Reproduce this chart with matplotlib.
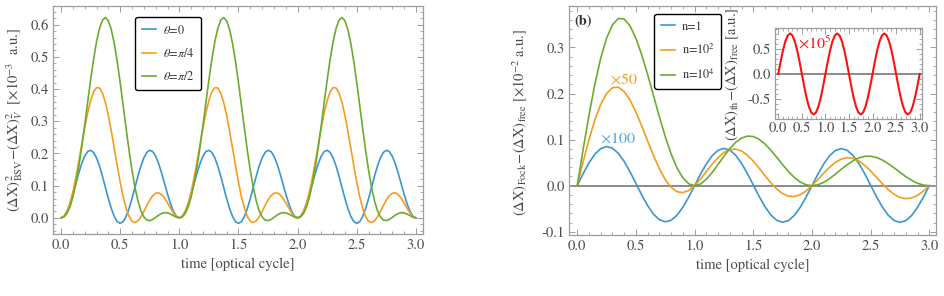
import numpy as np
import matplotlib
matplotlib.use('Agg')
import matplotlib.pyplot as plt
from matplotlib.ticker import MultipleLocator, FormatStrFormatter

plt.rcParams['font.family'] = ['STIXGeneral', 'DejaVu Serif']
plt.rcParams['mathtext.fontset'] = 'stix'
plt.rcParams['axes.unicode_minus'] = True

# ---------------- data: left panel (time step 0.025 optical cycle) ----------------
theta_labels = [r'$\theta$=0', r'$\theta$=$\pi$/4', r'$\theta$=$\pi$/2']
bsv_theta0 = [
    0, 0.0052, 0.0205, 0.0441, 0.0739, 0.1068, 0.1395, 0.1688, 0.1918, 0.2060,
    0.2100, 0.2033, 0.1865, 0.1611, 0.1295, 0.0947, 0.0601, 0.0290, 0.0043, -0.0116,
    -0.0170, -0.0116, 0.0043, 0.0290, 0.0601, 0.0947, 0.1295, 0.1611, 0.1865, 0.2033,
    0.2100, 0.2060, 0.1918, 0.1688, 0.1395, 0.1068, 0.0739, 0.0441, 0.0205, 0.0052,
    0, 0.0052, 0.0205, 0.0441, 0.0739, 0.1068, 0.1395, 0.1688, 0.1918, 0.2060,
    0.2100, 0.2033, 0.1865, 0.1611, 0.1295, 0.0947, 0.0601, 0.0290, 0.0043, -0.0116,
    -0.0170, -0.0116, 0.0043, 0.0290, 0.0601, 0.0947, 0.1295, 0.1611, 0.1865, 0.2033,
    0.2100, 0.2060, 0.1918, 0.1688, 0.1395, 0.1068, 0.0739, 0.0441, 0.0205, 0.0052,
    0, 0.0052, 0.0205, 0.0441, 0.0739, 0.1068, 0.1395, 0.1688, 0.1918, 0.2060,
    0.2100, 0.2033, 0.1865, 0.1611, 0.1295, 0.0947, 0.0601, 0.0290, 0.0043, -0.0116,
    -0.0170, -0.0116, 0.0043, 0.0290, 0.0601, 0.0947, 0.1295, 0.1611, 0.1865, 0.2033,
    0.2100, 0.2060, 0.1918, 0.1688, 0.1395, 0.1068, 0.0739, 0.0441, 0.0205, 0.0052,
    0]
bsv_theta_pi4 = [
    0, 0.0048, 0.0198, 0.0455, 0.0813, 0.1255, 0.1755, 0.2281, 0.2796, 0.3263,
    0.3645, 0.3914, 0.4047, 0.4035, 0.3877, 0.3585, 0.3181, 0.2694, 0.2162, 0.1621,
    0.1110, 0.0661, 0.0299, 0.0042, -0.0105, -0.0145, -0.0092, 0.0032, 0.0201, 0.0384,
    0.0555, 0.0688, 0.0766, 0.0778, 0.0725, 0.0615, 0.0466, 0.0303, 0.0151, 0.0042,
    0, 0.0048, 0.0198, 0.0455, 0.0813, 0.1255, 0.1755, 0.2281, 0.2796, 0.3263,
    0.3645, 0.3914, 0.4047, 0.4035, 0.3877, 0.3585, 0.3181, 0.2694, 0.2162, 0.1621,
    0.1110, 0.0661, 0.0299, 0.0042, -0.0105, -0.0145, -0.0092, 0.0032, 0.0201, 0.0384,
    0.0555, 0.0688, 0.0766, 0.0778, 0.0725, 0.0615, 0.0466, 0.0303, 0.0151, 0.0042,
    0, 0.0048, 0.0198, 0.0455, 0.0813, 0.1255, 0.1755, 0.2281, 0.2796, 0.3263,
    0.3645, 0.3914, 0.4047, 0.4035, 0.3877, 0.3585, 0.3181, 0.2694, 0.2162, 0.1621,
    0.1110, 0.0661, 0.0299, 0.0042, -0.0105, -0.0145, -0.0092, 0.0032, 0.0201, 0.0384,
    0.0555, 0.0688, 0.0766, 0.0778, 0.0725, 0.0615, 0.0466, 0.0303, 0.0151, 0.0042,
    0]
bsv_theta_pi2 = [
    0, 0.0030, 0.0136, 0.0337, 0.0646, 0.1068, 0.1594, 0.2210, 0.2887, 0.3592,
    0.4285, 0.4924, 0.5469, 0.5884, 0.6141, 0.6223, 0.6122, 0.5847, 0.5415, 0.4854,
    0.4200, 0.3495, 0.2780, 0.2095, 0.1476, 0.0947, 0.0528, 0.0223, 0.0029, -0.0067,
    -0.0085, -0.0049, 0.0015, 0.0084, 0.0137, 0.0163, 0.0156, 0.0121, 0.0070, 0.0022,
    0, 0.0030, 0.0136, 0.0337, 0.0646, 0.1068, 0.1594, 0.2210, 0.2887, 0.3592,
    0.4285, 0.4924, 0.5469, 0.5884, 0.6141, 0.6223, 0.6122, 0.5847, 0.5415, 0.4854,
    0.4200, 0.3495, 0.2780, 0.2095, 0.1476, 0.0947, 0.0528, 0.0223, 0.0029, -0.0067,
    -0.0085, -0.0049, 0.0015, 0.0084, 0.0137, 0.0163, 0.0156, 0.0121, 0.0070, 0.0022,
    0, 0.0030, 0.0136, 0.0337, 0.0646, 0.1068, 0.1594, 0.2210, 0.2887, 0.3592,
    0.4285, 0.4924, 0.5469, 0.5884, 0.6141, 0.6223, 0.6122, 0.5847, 0.5415, 0.4854,
    0.4200, 0.3495, 0.2780, 0.2095, 0.1476, 0.0947, 0.0528, 0.0223, 0.0029, -0.0067,
    -0.0085, -0.0049, 0.0015, 0.0084, 0.0137, 0.0163, 0.0156, 0.0121, 0.0070, 0.0022,
    0]

# ---------------- data: right panel (time step 0.05 optical cycle) ----------------
n_labels = ['n=1', r'n=10$^2$', r'n=10$^4$']
fock_n1_x100 = [
    0, 0.0260, 0.0494, 0.0682, 0.0804, 0.0850, 0.0815, 0.0704, 0.0527, 0.0301,
    0.0050, -0.0203, -0.0433, -0.0617, -0.0738, -0.0783, -0.0750, -0.0641, -0.0468, -0.0247,
    0, 0.0248, 0.0472, 0.0652, 0.0768, 0.0810, 0.0773, 0.0662, 0.0486, 0.0264,
    0.0017, -0.0232, -0.0456, -0.0635, -0.0751, -0.0793, -0.0756, -0.0644, -0.0469, -0.0247,
    0, 0.0248, 0.0471, 0.0650, 0.0765, 0.0806, 0.0768, 0.0656, 0.0480, 0.0257,
    0.0010, -0.0238, -0.0462, -0.0640, -0.0755, -0.0796, -0.0758, -0.0645, -0.0469, -0.0247,
    0]
fock_n100_x50 = [
    0, 0.0515, 0.0999, 0.1423, 0.1762, 0.2000, 0.2126, 0.2138, 0.2044, 0.1858,
    0.1600, 0.1295, 0.0971, 0.0654, 0.0368, 0.0133, -0.0035, -0.0130, -0.0150, -0.0103,
    0, 0.0142, 0.0305, 0.0467, 0.0611, 0.0720, 0.0783, 0.0794, 0.0752, 0.0662,
    0.0533, 0.0380, 0.0217, 0.0061, -0.0072, -0.0171, -0.0227, -0.0235, -0.0195, -0.0114,
    0, 0.0133, 0.0272, 0.0400, 0.0506, 0.0578, 0.0608, 0.0594, 0.0537, 0.0442,
    0.0320, 0.0182, 0.0043, -0.0084, -0.0187, -0.0255, -0.0282, -0.0266, -0.0209, -0.0117,
    0]
fock_n1e4 = [
    0, 0.0783, 0.1528, 0.2199, 0.2764, 0.3200, 0.3491, 0.3629, 0.3618, 0.3469,
    0.3200, 0.2838, 0.2412, 0.1954, 0.1496, 0.1067, 0.0691, 0.0388, 0.0170, 0.0041,
    0, 0.0037, 0.0139, 0.0287, 0.0461, 0.0640, 0.0806, 0.0941, 0.1034, 0.1076,
    0.1067, 0.1007, 0.0905, 0.0770, 0.0616, 0.0457, 0.0307, 0.0178, 0.0080, 0.0020,
    0, 0.0019, 0.0073, 0.0153, 0.0251, 0.0356, 0.0455, 0.0541, 0.0603, 0.0637,
    0.0640, 0.0612, 0.0557, 0.0479, 0.0388, 0.0291, 0.0197, 0.0116, 0.0053, 0.0013,
    0]
thermal_x1e5 = [
    0, 0.2503, 0.4761, 0.6553, 0.7704, 0.8100, 0.7704, 0.6553, 0.4761, 0.2503,
    0, -0.2503, -0.4761, -0.6553, -0.7704, -0.8100, -0.7704, -0.6553, -0.4761, -0.2503,
    0, 0.2503, 0.4761, 0.6553, 0.7704, 0.8100, 0.7704, 0.6553, 0.4761, 0.2503,
    0, -0.2503, -0.4761, -0.6553, -0.7704, -0.8100, -0.7704, -0.6553, -0.4761, -0.2503,
    0, 0.2503, 0.4761, 0.6553, 0.7704, 0.8100, 0.7704, 0.6553, 0.4761, 0.2503,
    0, -0.2503, -0.4761, -0.6553, -0.7704, -0.8100, -0.7704, -0.6553, -0.4761, -0.2503,
    0]

t_left = np.linspace(0, 3, len(bsv_theta0))
t_right = np.linspace(0, 3, len(fock_n1e4))

# ---------------- style ----------------
C_BLUE = '#3a96d2'
C_ORANGE = '#f49d1c'
C_GREEN = '#68ad30'
C_RED = '#ff1010'
FRAME = '#9c9c9c'
TXT = '#4a4a4a'
FS = 10.5
LFS = 8.8

fig = plt.figure(figsize=(9.44, 2.96), dpi=100)
axL = fig.add_axes([53/944, 1-234/296, 370/944, 228/296])
axR = fig.add_axes([569/944, 1-235/296, 367/944, 229/296])
axI = fig.add_axes([775/944, 1-119/296, 147/944, 91/296])


def style(ax, xmaj, xmin, ymaj, ymin):
    for s in ax.spines.values():
        s.set_color(FRAME)
        s.set_linewidth(0.9)
    ax.xaxis.set_major_locator(MultipleLocator(xmaj))
    ax.xaxis.set_minor_locator(MultipleLocator(xmin))
    ax.yaxis.set_major_locator(MultipleLocator(ymaj))
    ax.yaxis.set_minor_locator(MultipleLocator(ymin))
    ax.xaxis.set_major_formatter(FormatStrFormatter('%.1f'))
    ax.yaxis.set_major_formatter(FormatStrFormatter('%.1f'))
    ax.tick_params(which='both', direction='in', top=True, right=True,
                   color=FRAME, labelcolor=TXT, labelsize=FS, pad=3)
    ax.tick_params(which='major', length=4, width=0.7)
    ax.tick_params(which='minor', length=2, width=0.6)


def make_legend(ax, anchor):
    leg = ax.legend(loc='upper left', bbox_to_anchor=anchor, fontsize=LFS,
                    frameon=True, fancybox=True, framealpha=1.0,
                    handlelength=1.15, handletextpad=0.55,
                    labelspacing=0.85, borderpad=0.55, borderaxespad=0)
    leg.get_frame().set_edgecolor('black')
    leg.get_frame().set_linewidth(1.0)
    for tx in leg.get_texts():
        tx.set_color('#333333')
    return leg


# ---------------- left panel ----------------
lw = 1.2
for y, c, lab in zip([bsv_theta0, bsv_theta_pi4, bsv_theta_pi2],
                     [C_BLUE, C_ORANGE, C_GREEN], theta_labels):
    axL.plot(t_left, y, color=c, lw=lw, label=lab)
axL.set_xlim(-0.068, 3.06)
axL.set_ylim(-0.05, 0.658)
style(axL, 0.5, 0.1, 0.1, 0.02)
axL.set_xlabel('time [optical cycle]', fontsize=FS, color=TXT, labelpad=4)
axL.set_ylabel(r'$\mathrm{(\Delta X)}^2_{\mathrm{BSV}}\!-\!\mathrm{(\Delta X)}^2_{V}$  [$\times$10$^{-3}$  a.u.]',
               fontsize=FS, color=TXT)
axL.yaxis.set_label_coords(-0.076, 0.5)
make_legend(axL, (0.222, 0.952))

# ---------------- right panel ----------------
axR.axhline(0, color='#8a8a8a', lw=1.4, zorder=1)
for y, c, lab in zip([fock_n1_x100, fock_n100_x50, fock_n1e4],
                     [C_BLUE, C_ORANGE, C_GREEN], n_labels):
    axR.plot(t_right, y, color=c, lw=lw, label=lab, zorder=2)
axR.set_xlim(-0.07, 3.057)
axR.set_ylim(-0.107, 0.39)
style(axR, 0.5, 0.1, 0.1, 0.02)
axR.set_xlabel('time [optical cycle]', fontsize=FS, color=TXT, labelpad=4)
axR.set_ylabel(r'$\mathrm{(\Delta X)}_{\mathrm{Fock}}\!-\!\mathrm{(\Delta X)}_{\mathrm{free}}$ [$\times$10$^{-2}$ a.u.]',
               fontsize=FS, color=TXT)
axR.yaxis.set_label_coords(-0.109, 0.49)
make_legend(axR, (0.232, 0.965))
axR.text(0.016, 0.962, '(b)', transform=axR.transAxes, fontsize=FS,
         fontweight='bold', va='top', ha='left', color='#333333')
axR.text(0.40, 0.23, r'$\times$50', color=C_ORANGE, fontsize=FS + 1, ha='center', va='center')
axR.text(0.35, 0.104, r'$\times$100', color='#52a8dd', fontsize=FS + 1, ha='center', va='center')

# ---------------- inset ----------------
axI.axhline(0, color='#8a8a8a', lw=1.4, zorder=1)
axI.plot(t_right, thermal_x1e5, color=C_RED, lw=1.5, zorder=2)
axI.set_xlim(-0.07, 3.05)
axI.set_ylim(-0.9, 0.92)
style(axI, 0.5, 0.1, 0.5, 0.1)
axI.tick_params(axis='x', pad=2)
axI.set_ylabel(r'$\mathrm{(\Delta X)}_{\mathrm{th}}\!-\!\mathrm{(\Delta X)}_{\mathrm{free}}$ [a.u.]',
               fontsize=FS, color=TXT)
axI.yaxis.set_label_coords(-0.228, 0.49)
axI.text(0.78, 0.62, r'$\times$10$^5$', color=C_RED, fontsize=FS + 1, ha='center', va='center')

fig.savefig('out.png', dpi=100)
